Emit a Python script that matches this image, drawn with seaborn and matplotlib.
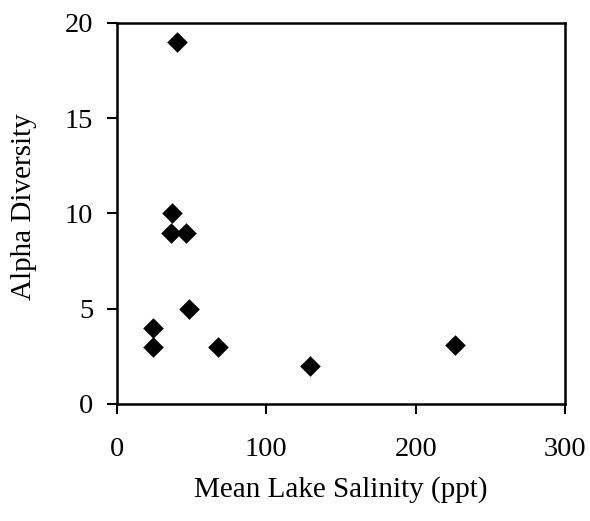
import matplotlib
matplotlib.use("Agg")
import matplotlib.pyplot as plt
import seaborn as sns
import pandas as pd

# values
salinity = [40, 37, 36, 46, 48, 24, 24, 68, 129, 226]
diversity = [19, 10, 9, 9, 5, 4, 3, 3, 2, 3.1]

df = pd.DataFrame({"Mean Lake Salinity (ppt)": salinity, "Alpha Diversity": diversity})

sns.set_style("white")
plt.rcParams['font.family'] = ['Liberation Serif', 'DejaVu Serif']
plt.rcParams['text.color'] = 'black'
plt.rcParams['axes.labelcolor'] = 'black'
plt.rcParams['xtick.color'] = 'black'
plt.rcParams['ytick.color'] = 'black'

fig = plt.figure(figsize=(5.9, 5.21), dpi=100)
ax = fig.add_axes([0.198, 0.2246, 0.76, 0.7314])

sns.scatterplot(x="Mean Lake Salinity (ppt)", y="Alpha Diversity", data=df, ax=ax,
                marker="D", color="black", edgecolor="black", s=110, linewidth=0)

ax.set_xlim(0, 300)
ax.set_ylim(0, 20)
ax.set_xticks([0, 100, 200, 300])
ax.set_yticks([0, 5, 10, 15, 20])

for sp in ax.spines.values():
    sp.set_color("black")
    sp.set_linewidth(1.8)
    sp.set_visible(True)

ax.tick_params(axis="both", direction="out", length=7, width=1.5, color="black",
               labelcolor="black", labelsize=20.5, bottom=True, left=True)
ax.tick_params(axis="x", pad=17)
ax.tick_params(axis="y", pad=10)

ax.set_xlabel("Mean Lake Salinity (ppt)", fontsize=21, color="black")
ax.set_ylabel("Alpha Diversity", fontsize=21, color="black")
ax.xaxis.set_label_coords(0.5, -0.19)
ax.yaxis.set_label_coords(-0.178, 0.517)

plt.savefig("out.png", dpi=100)
